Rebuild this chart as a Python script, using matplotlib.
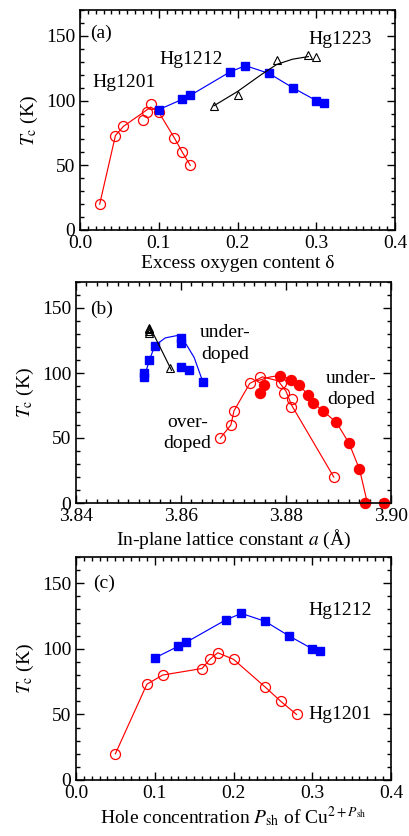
import numpy as np
import matplotlib
matplotlib.use("Agg")
import matplotlib.pyplot as plt
from matplotlib.ticker import MultipleLocator

plt.rcParams['font.family'] = ['Liberation Serif', 'DejaVu Serif']
plt.rcParams['mathtext.fontset'] = 'stix'
plt.rcParams['font.size'] = 14

# -----------------------------
# Data
# -----------------------------

# (a) Tc vs excess oxygen content
a_1201_x = [0.025, 0.045, 0.055, 0.080, 0.085, 0.090, 0.100, 0.120, 0.130, 0.140]
a_1201_y = [20, 73, 80, 85, 91, 97, 91, 71, 60, 50]
a_1201_fit_x = [0.025, 0.045, 0.055, 0.090, 0.100, 0.120, 0.130, 0.140]
a_1201_fit_y = [20, 73, 80, 95, 91, 71, 60, 50]

a_1212_x = [0.10, 0.13, 0.14, 0.19, 0.21, 0.24, 0.27, 0.30, 0.31]
a_1212_y = [93, 101, 104, 122, 127, 121, 110, 100, 98]

a_1223_x = [0.17, 0.20, 0.25, 0.29, 0.30]
a_1223_y = [96, 104, 131, 135, 134]
a_1223_fit_x = [0.17, 0.20, 0.23, 0.25, 0.27, 0.29]
a_1223_fit_y = [96, 107, 120, 128, 132, 134]

# (b) Tc vs in-plane lattice constant
b_1212_x = [3.853, 3.853, 3.854, 3.855, 3.860, 3.860, 3.860, 3.8616, 3.8641]
b_1212_y = [100, 97, 110, 121, 127, 123, 105, 102, 93]
b_1212_fit_x = [3.853, 3.854, 3.855, 3.857, 3.8595, 3.861, 3.8625, 3.864]
b_1212_fit_y = [97, 110, 121, 127, 129, 122, 112, 95]

b_1223_x = [3.854, 3.854, 3.854, 3.854, 3.8579]
b_1223_y = [135, 134, 132, 131, 104]
b_1223_fit_x = [3.854, 3.856, 3.8582]
b_1223_fit_y = [136, 120, 102]

b_1201_over_x = [3.8675, 3.8695, 3.8701, 3.8731, 3.8751, 3.8790, 3.8797, 3.8811, 3.8810, 3.8891]
b_1201_over_y = [50, 60, 71, 92, 97, 92, 85, 80, 74, 20]
b_1201_over_fit_x = [3.8675, 3.8695, 3.8701, 3.8731, 3.8755, 3.8785, 3.8800, 3.8811, 3.8891]
b_1201_over_fit_y = [50, 60, 71, 92, 97, 94, 86, 75, 20]

b_1201_under_x = [3.8751, 3.8759, 3.8789, 3.8810, 3.8825, 3.8842, 3.8852, 3.8870,
                  3.8896, 3.8920, 3.8940, 3.8951, 3.8986]
b_1201_under_y = [85, 91, 98, 95, 91, 83, 77, 71, 62, 46, 26, 0, 0]
b_1201_under_fit_x = [3.8745, 3.8770, 3.8789, 3.8810, 3.8825, 3.8842, 3.8852, 3.8870,
                      3.8896, 3.8920, 3.8940, 3.8955]
b_1201_under_fit_y = [94, 97, 98, 95, 91, 83, 77, 71, 62, 46, 26, 0]

# (c) Tc vs hole concentration
c_1212_x = [0.10, 0.13, 0.14, 0.19, 0.21, 0.24, 0.27, 0.30, 0.31]
c_1212_y = [93, 102, 105, 122, 127, 121, 110, 100, 98]

c_1201_x = [0.05, 0.09, 0.11, 0.16, 0.17, 0.18, 0.20, 0.24, 0.26, 0.28]
c_1201_y = [20, 73, 80, 85, 92, 97, 92, 71, 60, 50]

# -----------------------------
# Styling
# -----------------------------
W, H = 410, 836
lw = 0.85
blue = '#0000ff'
red = '#ff0000'
fs = 14

sq = dict(marker='s', ms=6.2, color=blue, mfc=blue, mec=blue, lw=0)
circ_open = dict(marker='o', ms=7.2, mfc='none', mec=red, mew=0.9, lw=0)
circ_fill = dict(marker='o', ms=7.2, mfc=red, mec=red, lw=0)
tri = dict(marker='^', ms=6, mfc='none', mec='black', mew=0.8, lw=0)


def make_axes(fig, left, right, top, bottom):
    ax = fig.add_axes([left / W, 1 - bottom / H, (right - left) / W, (bottom - top) / H])
    ax.tick_params(which='both', direction='in', top=True, right=True, labelsize=fs, width=1.0)
    ax.tick_params(which='major', length=6)
    ax.tick_params(which='minor', length=3)
    for s in ax.spines.values():
        s.set_linewidth(1.2)
    ax.set_ylim(0, 170)
    ax.yaxis.set_major_locator(MultipleLocator(50))
    ax.yaxis.set_minor_locator(MultipleLocator(10))
    ax.set_ylabel(r'$T_{\rm c}$ (K)', fontsize=fs, labelpad=4)
    return ax


fig = plt.figure(figsize=(W / 100, H / 100), dpi=100)

# ---- panel (a)
ax = make_axes(fig, 80, 395, 10, 230)
ax.plot(a_1201_fit_x, a_1201_fit_y, color=red, lw=lw)
ax.plot(a_1201_x, a_1201_y, **circ_open)
ax.plot(a_1212_x, a_1212_y, color=blue, lw=lw)
ax.plot(a_1212_x, a_1212_y, **sq)
ax.plot(a_1223_fit_x, a_1223_fit_y, color='black', lw=lw)
ax.plot(a_1223_x, a_1223_y, **tri)
ax.set_xlim(0, 0.4)
ax.xaxis.set_major_locator(MultipleLocator(0.1))
ax.xaxis.set_minor_locator(MultipleLocator(0.01))
ax.xaxis.set_major_formatter(lambda v, p: f'{v:.1f}')
ax.set_xlabel('Excess oxygen content δ', fontsize=fs, labelpad=2)
ax.text(0.0127, 152, '(a)', ha='left', va='center', fontsize=fs)
ax.text(0.056, 114, 'Hg1201', ha='center', va='center', fontsize=fs)
ax.text(0.141, 132, 'Hg1212', ha='center', va='center', fontsize=fs)
ax.text(0.330, 147, 'Hg1223', ha='center', va='center', fontsize=fs)

# ---- panel (b)
ax = make_axes(fig, 76, 391, 282, 503)
ax.plot(b_1212_fit_x, b_1212_fit_y, color=blue, lw=lw)
ax.plot(b_1212_x, b_1212_y, **sq)
ax.plot(b_1223_fit_x, b_1223_fit_y, color='black', lw=lw)
ax.plot(b_1223_x, b_1223_y, **tri)
ax.plot(b_1201_over_fit_x, b_1201_over_fit_y, color=red, lw=lw)
ax.plot(b_1201_over_x, b_1201_over_y, **circ_open)
ax.plot(b_1201_under_fit_x, b_1201_under_fit_y, color=red, lw=lw)
ax.plot(b_1201_under_x, b_1201_under_y, clip_on=False, **circ_fill)
ax.set_xlim(3.84, 3.90)
ax.xaxis.set_major_locator(MultipleLocator(0.02))
ax.xaxis.set_minor_locator(MultipleLocator(0.002))
ax.xaxis.set_major_formatter(lambda v, p: f'{v:.2f}')
ax.set_xlabel(r'In-plane lattice constant $a$ (Å)', fontsize=fs, labelpad=2)
ax.text(3.8427, 149, '(b)', ha='left', va='center', fontsize=fs)
ax.text(3.8684, 131.5, 'under-', ha='center', va='center', fontsize=fs)
ax.text(3.8684, 114.6, 'doped', ha='center', va='center', fontsize=fs)
ax.text(3.8924, 96, 'under-', ha='center', va='center', fontsize=fs)
ax.text(3.8924, 80, 'doped', ha='center', va='center', fontsize=fs)
ax.text(3.8613, 62, 'over-', ha='center', va='center', fontsize=fs)
ax.text(3.8611, 46, 'doped', ha='center', va='center', fontsize=fs)

# ---- panel (c)
ax = make_axes(fig, 76, 391, 557, 780)
ax.plot(c_1212_x, c_1212_y, color=blue, lw=lw)
ax.plot(c_1212_x, c_1212_y, **sq)
ax.plot(c_1201_x, c_1201_y, color=red, lw=lw)
ax.plot(c_1201_x, c_1201_y, **circ_open)
ax.set_xlim(0, 0.4)
ax.xaxis.set_major_locator(MultipleLocator(0.1))
ax.xaxis.set_minor_locator(MultipleLocator(0.01))
ax.xaxis.set_major_formatter(lambda v, p: f'{v:.1f}')
ax.set_xlabel(r'Hole concentration $P_{\rm sh}$ of Cu$^{2+P_{\rm sh}}$', fontsize=fs, labelpad=2)
ax.text(0.0216, 150, '(c)', ha='left', va='center', fontsize=fs)
ax.text(0.335, 129, 'Hg1212', ha='center', va='center', fontsize=fs)
ax.text(0.335, 50, 'Hg1201', ha='center', va='center', fontsize=fs)

fig.savefig('out.png', dpi=100)
